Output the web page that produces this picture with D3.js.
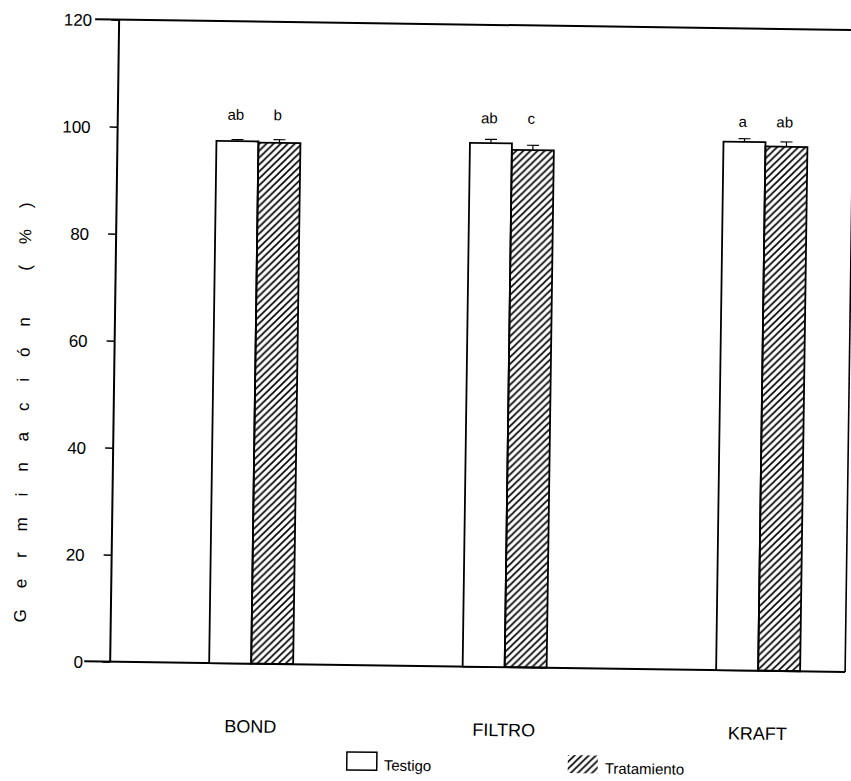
<!DOCTYPE html>
<html>
<head>
<meta charset="utf-8">
<script src="https://cdn.jsdelivr.net/npm/d3@7"></script>
<style>
  body { margin: 0; background: #fff; }
  svg { display: block; }
  text { font-family: "Liberation Sans", Arial, Helvetica, sans-serif; fill: #000; }
</style>
</head>
<body>
<svg id="chart" width="851" height="781"></svg>
<script>
// Germination (%) per paper type, control vs. treatment
const categories = ["BOND", "FILTRO", "KRAFT"];
const seriesNames = ["Testigo", "Tratamiento"];
const testigo = [97.6, 97.9, 98.8];
const tratamiento = [97.4, 96.7, 98.0];
const testigoErr = [0.3, 0.7, 0.6];
const tratamientoErr = [0.6, 0.9, 0.9];
const testigoLetters = ["ab", "ab", "a"];
const tratamientoLetters = ["b", "c", "ab"];
const yTicks = [0, 20, 40, 60, 80, 100, 120];
const letterLevel = 101.6;

const svg = d3.select("#chart");

// diagonal hatch for the treatment bars
const defs = svg.append("defs");
const pat = defs.append("pattern")
  .attr("id", "hatch")
  .attr("patternUnits", "userSpaceOnUse")
  .attr("width", 7).attr("height", 7);
pat.append("path")
  .attr("d", "M-1,8 L8,-1 M-2,2 L2,-2 M5,9 L9,5")
  .attr("stroke", "#000").attr("stroke-width", 1.6);

// the whole figure sits very slightly turned, as printed
const g = svg.append("g").attr("transform", "rotate(0.8,425,390)");

const plotLeft = 114, plotRight = 849, plotTop = 24, plotBottom = 666;
const y = d3.scaleLinear().domain([0, 120]).range([plotBottom, plotTop]);
const x = d3.scalePoint().domain(categories).range([255, 762]);
const barW = 42;
const inner = d3.scaleBand().domain(seriesNames).range([-barW, barW]).padding(0);

const rows = categories.map((c, i) => ({
  cat: c,
  bars: [
    { s: "Testigo", v: testigo[i], e: testigoErr[i], l: testigoLetters[i] },
    { s: "Tratamiento", v: tratamiento[i], e: tratamientoErr[i], l: tratamientoLetters[i] }
  ]
}));

// y axis
const yAxis = d3.axisLeft(y).tickValues(yTicks).tickSize(8).tickPadding(19).tickFormat(d3.format("d"));
const ya = g.append("g").attr("transform", `translate(${plotLeft},0)`).call(yAxis);
ya.select(".domain").remove();
ya.selectAll(".tick line").attr("stroke", "#000").attr("stroke-width", 1.5);
ya.selectAll(".tick text").style("font-size", "17px").attr("dy", "0.36em");

// frame lines
g.append("line").attr("x1", plotLeft).attr("x2", plotLeft).attr("y1", plotTop).attr("y2", plotBottom)
  .attr("stroke", "#000").attr("stroke-width", 2);
g.append("line").attr("x1", plotLeft - 24).attr("x2", 860).attr("y1", plotTop).attr("y2", plotTop)
  .attr("stroke", "#000").attr("stroke-width", 2);
g.append("line").attr("x1", plotLeft - 26).attr("x2", plotRight).attr("y1", plotBottom).attr("y2", plotBottom)
  .attr("stroke", "#000").attr("stroke-width", 2);
g.append("line").attr("x1", plotRight).attr("x2", plotRight).attr("y1", plotTop).attr("y2", plotBottom)
  .attr("stroke", "#000").attr("stroke-width", 1.6);

// bars
const groups = g.selectAll(".grp").data(rows).join("g")
  .attr("class", "grp")
  .attr("transform", d => `translate(${x(d.cat)},0)`);

const bar = groups.selectAll(".bar").data(d => d.bars).join("g").attr("class", "bar");
bar.append("rect")
  .attr("x", d => inner(d.s))
  .attr("width", inner.bandwidth())
  .attr("y", d => y(d.v))
  .attr("height", d => y(0) - y(d.v))
  .attr("fill", d => d.s === "Testigo" ? "#fff" : "url(#hatch)")
  .attr("stroke", "#000").attr("stroke-width", 1.8);

// error bars
bar.append("line")
  .attr("x1", d => inner(d.s) + inner.bandwidth() / 2)
  .attr("x2", d => inner(d.s) + inner.bandwidth() / 2)
  .attr("y1", d => y(d.v)).attr("y2", d => y(d.v + d.e))
  .attr("stroke", "#000").attr("stroke-width", 1.2);
bar.append("line")
  .attr("x1", d => inner(d.s) + inner.bandwidth() / 2 - 6)
  .attr("x2", d => inner(d.s) + inner.bandwidth() / 2 + 6)
  .attr("y1", d => y(d.v + d.e)).attr("y2", d => y(d.v + d.e))
  .attr("stroke", "#000").attr("stroke-width", 1.2);

// significance letters
bar.append("text")
  .attr("x", d => inner(d.s) + inner.bandwidth() / 2 - 2)
  .attr("y", y(letterLevel))
  .attr("text-anchor", "middle")
  .style("font-size", "15px")
  .text(d => d.l);

// category labels
g.selectAll(".cat").data(categories).join("text")
  .attr("class", "cat")
  .attr("x", d => x(d))
  .attr("y", 735)
  .attr("text-anchor", "middle")
  .style("font-size", "18px")
  .text(d => d);

// y axis title
g.append("text")
  .attr("transform", "translate(29,418) rotate(-90)")
  .attr("text-anchor", "middle")
  .attr("textLength", 420)
  .attr("lengthAdjust", "spacing")
  .style("font-size", "17px")
  .text("Germinación (%)");

// legend
const legendX = [352, 573];
const lg = g.selectAll(".lg").data(seriesNames).join("g")
  .attr("class", "lg")
  .attr("transform", (d, i) => `translate(${legendX[i]},753)`);
lg.append("rect")
  .attr("width", 30).attr("height", 18)
  .attr("fill", d => d === "Testigo" ? "#fff" : "url(#hatch)")
  .attr("stroke", d => d === "Testigo" ? "#000" : "none")
  .attr("stroke-width", 1.5);
lg.append("text")
  .attr("x", 37).attr("y", 18)
  .style("font-size", "15px")
  .text(d => d);
</script>
</body>
</html>
